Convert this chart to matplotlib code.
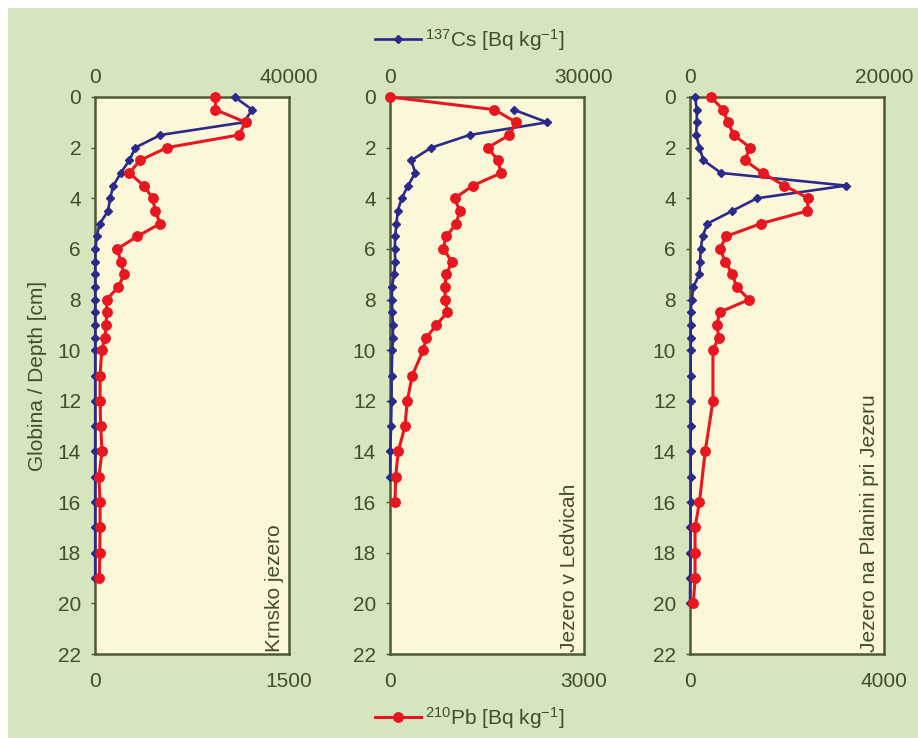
import numpy as np
import matplotlib
matplotlib.use("Agg")
import matplotlib.pyplot as plt
from matplotlib.lines import Line2D
from matplotlib.patches import Rectangle

plt.rcParams['font.family'] = ['Liberation Sans', 'DejaVu Sans']
plt.rcParams['mathtext.default'] = 'regular'

# ---------------- data ----------------
depth_a = [0, 0.5, 1, 1.5, 2, 2.5, 3, 3.5, 4, 4.5, 5, 5.5, 6, 6.5, 7, 7.5, 8, 8.5, 9, 9.5, 10,
           11, 12, 13, 14, 15, 16, 17, 18, 19]

# Krnsko jezero
cs1_depth = depth_a
cs1 = [28800, 32400, 30700, 13500, 8300, 7100, 5300, 3800, 3100, 2700, 1000, 350, 100, 50, 50,
       50, 50, 50, 50, 50, 50, 50, 50, 50, 50, 50, 50, 50, 50, 50]
pb1_depth = depth_a
pb1 = [931, 931, 1164, 1112, 556, 349, 266, 375, 447, 465, 504, 328, 173, 199, 225, 181, 90, 90,
       85, 78, 52, 39, 39, 44, 54, 30, 39, 39, 37, 34]

# Jezero v Ledvicah
cs2_depth = [0.5, 1, 1.5, 2, 2.5, 3, 3.5, 4, 4.5, 5, 5.5, 6, 6.5, 7, 7.5, 8, 8.5, 9, 9.5, 10,
             11, 12, 13, 14, 15]
cs2 = [19100, 24300, 12300, 6400, 3300, 3900, 2800, 1800, 1200, 1000, 800, 750, 800, 650, 300,
       300, 350, 450, 450, 350, 250, 250, 150, 50, 30]
pb2_depth = [0, 0.5, 1, 1.5, 2, 2.5, 3, 3.5, 4, 4.5, 5, 5.5, 6, 6.5, 7, 7.5, 8, 8.5, 9, 9.5, 10,
             11, 12, 13, 14, 15, 16]
pb2 = [0, 1615, 1950, 1846, 1513, 1667, 1718, 1282, 1000, 1077, 1025, 872, 820, 959, 872, 846,
       856, 887, 718, 564, 513, 344, 267, 231, 128, 87, 77]

# Jezero na Planini pri Jezeru
cs3_depth = [0, 0.5, 1, 1.5, 2, 2.5, 3, 3.5, 4, 4.5, 5, 5.5, 6, 6.5, 7, 7.5, 8, 8.5, 9, 9.5, 10,
             11, 12, 13, 14, 15, 16, 17, 18, 19, 20]
cs3 = [520, 700, 700, 630, 970, 1390, 3200, 16100, 6900, 4350, 1800, 1300, 1100, 1050, 970, 350,
       170, 70, 70, 70, 70, 70, 70, 70, 70, 70, 70, 50, 50, 20, 0]
pb3_depth = [0, 0.5, 1, 1.5, 2, 2.5, 3, 3.5, 4, 4.5, 5, 5.5, 6, 6.5, 7, 7.5, 8, 8.5, 9, 9.5, 10,
             12, 14, 16, 17, 18, 19, 20]
pb3 = [431, 682, 779, 904, 1238, 1127, 1496, 1948, 2435, 2421, 1461, 751, 612, 730, 870, 960,
       1217, 612, 557, 591, 473, 473, 313, 195, 104, 104, 104, 70]

lake_names = ['Krnsko jezero', 'Jezero v Ledvicah', 'Jezero na Planini pri Jezeru']
cs_max = [40000, 30000, 20000]
pb_max = [1500, 3000, 4000]
depth_ticks = list(range(0, 23, 2))
cs_label = r'$^{137}$Cs [Bq kg$^{-1}$]'
pb_label = r'$^{210}$Pb [Bq kg$^{-1}$]'
ylabel = 'Globina / Depth [cm]'

# ---------------- style ----------------
GREEN = '#d5e6bf'
CREAM = '#fdf7d9'
TXT = '#414d2c'
SPINE = '#4e5936'
BLUE = '#2b2a8a'
RED = '#e8161f'

fig = plt.figure(figsize=(9.18, 7.38), dpi=100)
fig.patch.set_facecolor('white')
fig.patches.append(Rectangle((8 / 918, 0), 1, 1 - 8 / 738, transform=fig.transFigure,
                             facecolor=GREEN, edgecolor='none', zorder=-10))

W, H = 918, 738
lefts = [95, 390, 690]
width_px = 194
top_px, bot_px = 97, 654

series = [(cs1_depth, cs1, pb1_depth, pb1), (cs2_depth, cs2, pb2_depth, pb2),
          (cs3_depth, cs3, pb3_depth, pb3)]

for i, (cd, cv, pd_, pv) in enumerate(series):
    ax = fig.add_axes([lefts[i] / W, 1 - bot_px / H, width_px / W, (bot_px - top_px) / H])
    ax.set_facecolor(CREAM)
    ax2 = ax.twiny()

    # 137Cs on the main axes (top x axis)
    ax.plot(cv, cd, color=BLUE, lw=1.9, marker='D', ms=4.4, mfc=BLUE, mec=BLUE, zorder=3,
            clip_on=False)
    ax.set_xlim(0, cs_max[i])
    ax.set_ylim(22, 0)
    ax.xaxis.set_ticks_position('top')
    ax.xaxis.set_label_position('top')
    ax.set_xticks([0, cs_max[i]])
    ax.set_xticklabels(['0', str(cs_max[i])])
    ax.set_yticks(depth_ticks)
    ax.set_yticklabels([str(t) for t in depth_ticks])
    ax.tick_params(axis='x', which='both', top=True, bottom=False, labeltop=True,
                   labelbottom=False, length=0, pad=7, labelsize=15, colors=TXT)
    ax.tick_params(axis='y', direction='out', length=3, width=1, pad=7, labelsize=15,
                   colors=TXT, color=SPINE)
    for s in ax.spines.values():
        s.set_color(SPINE)
        s.set_linewidth(1.8)
        s.set_zorder(2)

    # 210Pb on the twin axes (bottom x axis)
    ax2.plot(pv, pd_, color=RED, lw=2.2, marker='o', ms=6.8, mfc=RED, mec=RED, zorder=4,
             clip_on=False)
    ax2.set_xlim(0, pb_max[i])
    ax2.set_ylim(22, 0)
    ax2.xaxis.set_ticks_position('bottom')
    ax2.xaxis.set_label_position('bottom')
    ax2.set_xticks([0, pb_max[i]])
    ax2.set_xticklabels(['0', str(pb_max[i])])
    ax2.tick_params(axis='x', which='both', top=False, bottom=True, labeltop=False,
                    labelbottom=True, length=0, pad=13, labelsize=15, colors=TXT)
    for s in ax2.spines.values():
        s.set_visible(False)

    ax2.text(0.975, 0.004, lake_names[i], rotation=90, ha='right', va='bottom',
             transform=ax2.transAxes, fontsize=15, color=TXT, zorder=5)

    if i == 0:
        ax.set_ylabel(ylabel, fontsize=15, color=TXT, labelpad=8)

h_cs = Line2D([], [], color=BLUE, lw=1.9, marker='D', ms=4.4)
h_pb = Line2D([], [], color=RED, lw=2.2, marker='o', ms=6.8)
fig.legend([h_cs], [cs_label], loc='center', bbox_to_anchor=(0.512, 1 - 40 / H),
           frameon=False, fontsize=15, handlelength=2.2, handletextpad=0.2,
           labelcolor=TXT, numpoints=1)
fig.legend([h_pb], [pb_label], loc='center', bbox_to_anchor=(0.512, 1 - 718 / H),
           frameon=False, fontsize=15, handlelength=2.2, handletextpad=0.2,
           labelcolor=TXT, numpoints=1)

fig.savefig('out.png', dpi=100, facecolor=fig.get_facecolor())
